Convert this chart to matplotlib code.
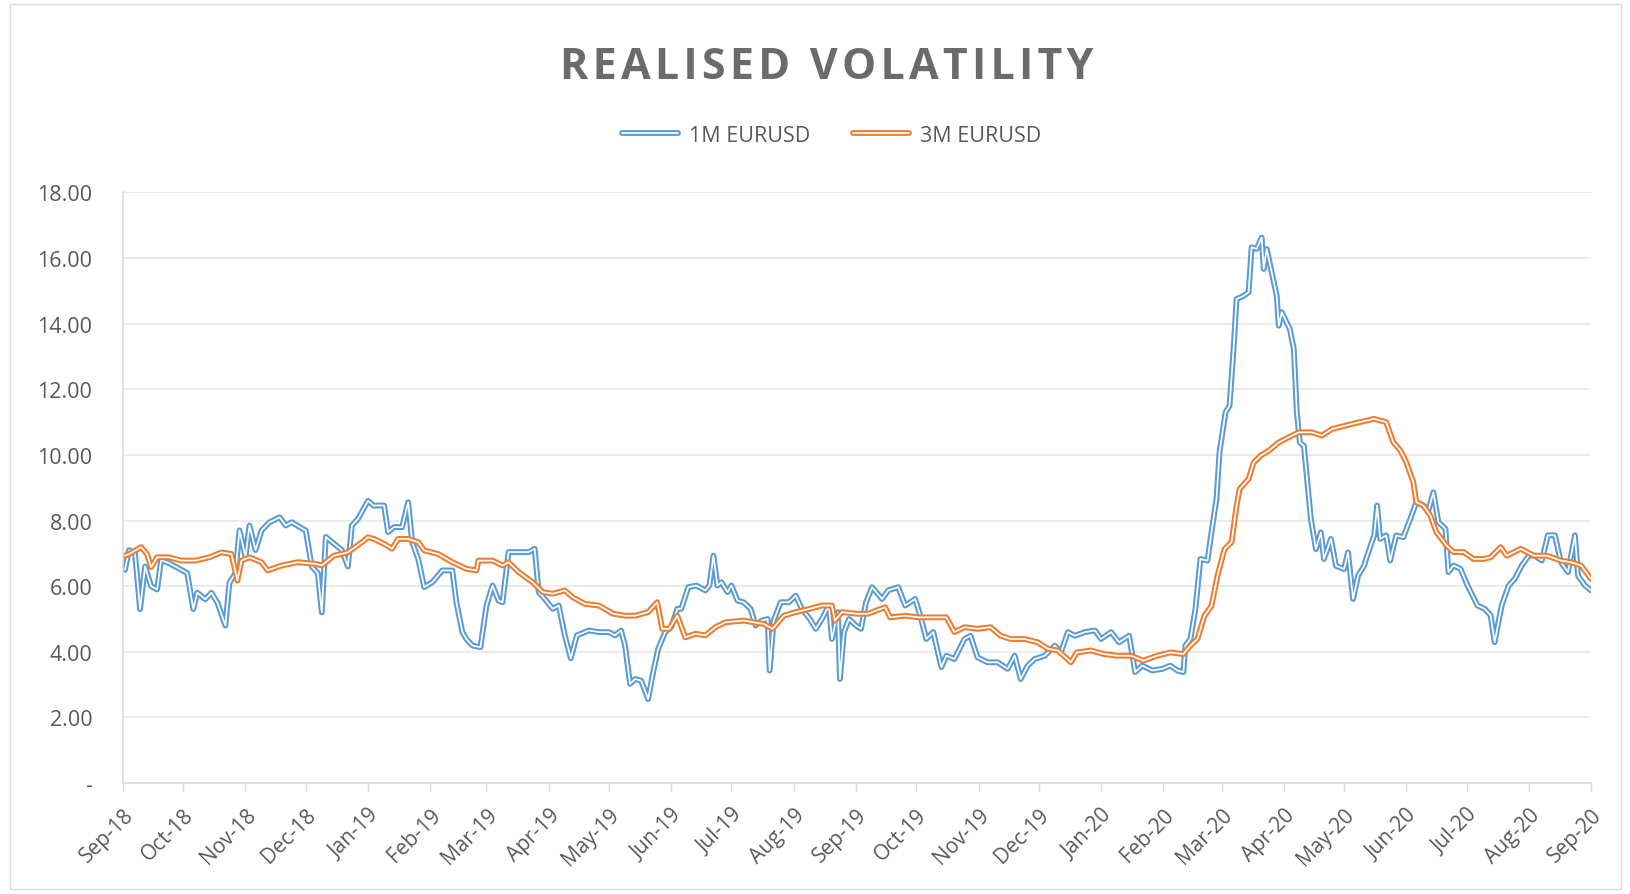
import numpy as np
import matplotlib
matplotlib.use("Agg")
import matplotlib.pyplot as plt
import matplotlib.dates as mdates
import matplotlib.patheffects as pe
from matplotlib.patches import Rectangle

# ---- data: day offsets from 2018-09-01 and realised vol values ----
blue_days = [1, 3, 6, 8.5, 11, 14, 17, 19, 23, 26, 29, 32, 35, 37, 41, 44, 47, 51, 53, 56, 58, 61, 63, 66, 69, 73, 78, 81, 84, 88, 91, 94, 97, 99, 101, 105, 109, 112, 114, 117, 122, 125,
             127, 130, 132, 135, 139, 142, 144, 147, 150, 154, 159, 164, 166, 169, 171, 174, 178, 181, 184, 187, 189, 192, 197, 202, 205, 207, 210, 214, 217, 220, 223, 226, 232, 237, 242,
             245, 248, 250, 252.5, 255, 258, 261.5, 264, 266.5, 270, 273, 276, 278, 281.5, 285.5, 290, 292, 294, 296, 298, 301, 303, 306, 309, 312.5, 315, 318, 321, 322, 324, 327.5, 331.5, 335, 338, 342, 345, 348, 351.5, 353, 356, 357, 359, 361.5, 365, 367.5, 370, 373,
             378, 381, 386, 389.5, 394.5, 397, 400, 403.5, 407.5, 410, 414, 419, 422, 425.5, 430.5, 435.5, 440.5, 444, 447, 450.5, 454, 459, 464, 467, 470.5, 474, 479, 484, 487, 492, 496, 501, 504, 507.5, 512.5, 517.5,
             521.5, 525, 528, 529, 531.5, 534, 536.5, 540, 542, 544.5, 546, 549, 551, 553, 554.5, 558, 560.5, 562, 564.5, 567, 568, 569.5, 572, 574.5, 575.5, 577, 581, 583, 584.5, 586, 588, 591.5, 594, 596.5, 598, 601.5, 604, 608, 610, 612.5, 615, 618,
             619, 623, 624.5, 626, 629, 631, 634, 637.5, 641, 644, 647.5, 650, 652.5, 655, 658.5, 660, 662.5, 666, 669.5, 674.5, 678, 681, 683, 686.5, 690, 693, 696.5, 700, 703, 706.5, 709.5, 713, 716, 719.5, 723, 724.5, 728, 731]
blue_vals = [6.5, 7.1, 7.0, 5.3, 6.6, 6.0, 5.9, 6.8, 6.7, 6.6, 6.5, 6.4, 5.3, 5.8, 5.6, 5.8, 5.5, 4.8, 6.1, 6.4, 7.7, 6.9, 7.85, 7.1, 7.7, 7.95, 8.1, 7.85, 7.95, 7.8, 7.7, 6.6, 6.4, 5.2, 7.5, 7.3, 7.1, 6.6, 7.85, 8.05, 8.6, 8.45,
             8.46, 8.46, 7.65, 7.8, 7.8, 8.56, 7.34, 6.83, 5.97, 6.12, 6.48, 6.48, 5.51, 4.6, 4.39, 4.19, 4.14, 5.41, 6.02, 5.56, 5.51, 7.04, 7.04, 7.04, 7.14, 5.82, 5.61, 5.31, 5.41, 4.5, 3.8, 4.5, 4.65, 4.6, 4.6,
             4.5, 4.65, 4.19, 3.02, 3.17, 3.12, 2.56, 3.38, 4.09, 4.6, 4.75, 5.31, 5.31, 5.97, 6.02, 5.87, 6.02, 6.93, 6.02, 6.12, 5.82, 6.02, 5.56, 5.51, 5.31, 4.8, 4.95, 5.0, 3.43, 4.95, 5.51, 5.51, 5.71, 5.31, 5.0, 4.7, 5.0, 5.41, 4.39, 5.21, 3.17, 4.6, 5.0, 4.8, 4.7, 5.51, 5.97,
             5.61, 5.87, 5.97, 5.41, 5.61, 5.1, 4.39, 4.6, 3.53, 3.88, 3.78, 4.39, 4.49, 3.83, 3.68, 3.68, 3.48, 3.88, 3.17, 3.58, 3.78, 3.88, 4.19, 3.98, 4.6, 4.49, 4.6, 4.65, 4.39, 4.6, 4.29, 4.49, 3.38, 3.58, 3.43, 3.48,
             3.58, 3.43, 3.38, 4.19, 4.39, 5.3, 6.83, 6.78, 7.64, 8.66, 10.08, 11.3, 11.5, 13.23, 14.75, 14.85, 14.96, 16.33, 16.28, 16.63, 15.67, 16.28, 15.56, 14.85, 13.94, 14.35, 13.84, 13.23, 11.3, 10.38, 10.28, 8.05, 7.13, 7.64, 6.83, 7.44, 6.62, 6.52, 7.03, 5.61, 6.32, 6.62,
             6.83, 7.55, 8.46, 7.44, 7.55, 6.78, 7.55, 7.49, 8.05, 8.56, 8.46, 8.31, 8.86, 7.95, 7.75, 6.43, 6.63, 6.53, 6.02, 5.41, 5.31, 5.11, 4.29, 5.41, 6.02, 6.22, 6.63, 6.93, 6.93, 6.78, 7.55, 7.55, 6.73, 6.43, 7.55, 6.32, 6.02, 5.87]

orange_days = [1, 3, 9, 12, 14, 17, 23, 29, 36, 43, 49, 54, 57, 59, 63, 69, 72, 79, 87, 96, 99, 105, 112, 119, 122, 125,
               130, 134, 137, 142, 147, 150, 157, 164, 171, 176, 177, 184, 189, 192, 197, 204, 209, 214, 220, 224, 230, 237, 244,
               250, 255, 261.5, 266, 268.5, 272, 276, 280, 285, 290, 295, 300, 309, 314, 319, 323.5, 329, 335, 342, 348, 353, 354.5, 358, 365, 371,
               379.5, 382, 389.5, 396, 403, 410, 414, 419, 425.5, 432, 437, 442, 449, 455.5, 460.5, 465.5, 472, 475, 482, 488.5, 495, 502, 508,
               515, 521.5, 528, 531.5, 535, 538.5, 542, 545, 548.5, 552, 554.5, 556, 560.5, 563, 566.5, 570.5, 575.5, 580.5, 585.5, 592, 597, 602, 608.5, 615,
               623, 629, 632.5, 636, 639, 642.5, 644, 647.5, 651, 654, 659, 662.5, 667.5, 672.5, 677.5, 681, 686, 689, 696, 702.5, 709, 716, 721, 726, 731]
orange_vals = [6.93, 6.98, 7.19, 6.98, 6.58, 6.88, 6.88, 6.78, 6.78, 6.88, 7.03, 6.98, 6.17, 6.78, 6.88, 6.73, 6.48, 6.63, 6.73, 6.68, 6.63, 6.93, 7.03, 7.34, 7.49, 7.44,
               7.29, 7.14, 7.44, 7.44, 7.34, 7.09, 6.98, 6.73, 6.53, 6.48, 6.78, 6.78, 6.63, 6.73, 6.43, 6.12, 5.82, 5.77, 5.87, 5.66, 5.46, 5.41, 5.16,
               5.1, 5.1, 5.21, 5.51, 4.7, 4.7, 5.1, 4.44, 4.55, 4.5, 4.75, 4.9, 4.95, 4.9, 4.85, 4.7, 5.1, 5.21, 5.31, 5.41, 5.41, 4.95, 5.21, 5.16, 5.16,
               5.36, 5.05, 5.1, 5.05, 5.05, 5.05, 4.6, 4.75, 4.7, 4.75, 4.49, 4.39, 4.39, 4.29, 4.09, 4.04, 3.68, 3.98, 4.04, 3.93, 3.88, 3.88, 3.73,
               3.88, 3.98, 3.93, 4.19, 4.39, 5.1, 5.4, 6.32, 7.13, 7.34, 8.45, 8.96, 9.27, 9.77, 9.98, 10.13, 10.38, 10.54, 10.69, 10.69, 10.59, 10.79, 10.89, 10.99,
               11.1, 11.0, 10.39, 10.14, 9.78, 9.17, 8.56, 8.46, 8.15, 7.65, 7.24, 7.04, 7.04, 6.83, 6.83, 6.88, 7.19, 6.93, 7.14, 6.93, 6.93, 6.78, 6.73, 6.63, 6.22]

series_names = ["1M EURUSD", "3M EURUSD"]
series_colors = ["#5B9BD5", "#ED7D31"]
start_date = np.datetime64("2018-09-01")
end_date = np.datetime64("2020-09-01")
yticks = [0, 2, 4, 6, 8, 10, 12, 14, 16, 18]
title = "REALISED VOLATILITY"


def to_dates(days):
    hours = np.round(np.asarray(days) * 24).astype("timedelta64[h]")
    return start_date.astype("datetime64[h]") + hours


plt.rcParams["font.family"] = ["Open Sans", "DejaVu Sans"]
text_color = "#595959"

fig = plt.figure(figsize=(16.31, 8.95), dpi=100)
fig.patch.set_facecolor("white")
fig.patches.append(Rectangle((0.006, 0.006), 0.988, 0.988, transform=fig.transFigure,
                             fill=False, edgecolor="#d9d9d9", linewidth=1.0))

ax = fig.add_axes([0.0754, 0.124, 0.9001, 0.6598])

for days, vals, name, col in [(blue_days, blue_vals, series_names[0], series_colors[0]),
                              (orange_days, orange_vals, series_names[1], series_colors[1])]:
    ax.plot(to_dates(days), vals, color="white", lw=1.25, label=name,
            solid_joinstyle="round", solid_capstyle="round",
            path_effects=[pe.Stroke(linewidth=4.2, foreground=col), pe.Normal()])

ax.set_xlim(start_date, end_date)
ax.set_ylim(0, 18)
ax.set_yticks(yticks)
ax.set_yticklabels(["-" if v == 0 else f"{v:.2f}" for v in yticks])
ax.grid(axis="y", color="#e6e6e6", lw=1.1)
ax.set_axisbelow(True)

ax.xaxis.set_major_locator(mdates.MonthLocator())
ax.xaxis.set_major_formatter(mdates.DateFormatter("%b-%y"))
for lab in ax.get_xticklabels():
    lab.set_rotation(45)
    lab.set_ha("right")
    lab.set_rotation_mode("anchor")

ax.tick_params(axis="y", length=0, pad=22, labelsize=15.5, labelcolor=text_color)
ax.tick_params(axis="x", length=6, width=1.0, color="#d9d9d9", direction="out",
               pad=9, labelsize=15, labelcolor=text_color)

for s in ["top", "right"]:
    ax.spines[s].set_visible(False)
ax.spines["left"].set_color("#d9d9d9")
ax.spines["bottom"].set_color("#d9d9d9")
ax.spines["left"].set_linewidth(1.1)
ax.spines["bottom"].set_linewidth(1.1)

spaced_title = "\u200a".join(title)
fig.text(0.507, 0.925, spaced_title, ha="center", va="center",
         fontsize=31, fontweight="bold", color="#6b6b6b",
         family=["Open Sans", "DejaVu Sans"])

leg = fig.legend(loc="center", bbox_to_anchor=(0.51, 0.848), ncol=2, frameon=False,
                 fontsize=15.5, handlelength=2.6, columnspacing=2.0, handletextpad=0.5)
for t in leg.get_texts():
    t.set_color(text_color)

fig.savefig("out.png", dpi=100, facecolor="white")
